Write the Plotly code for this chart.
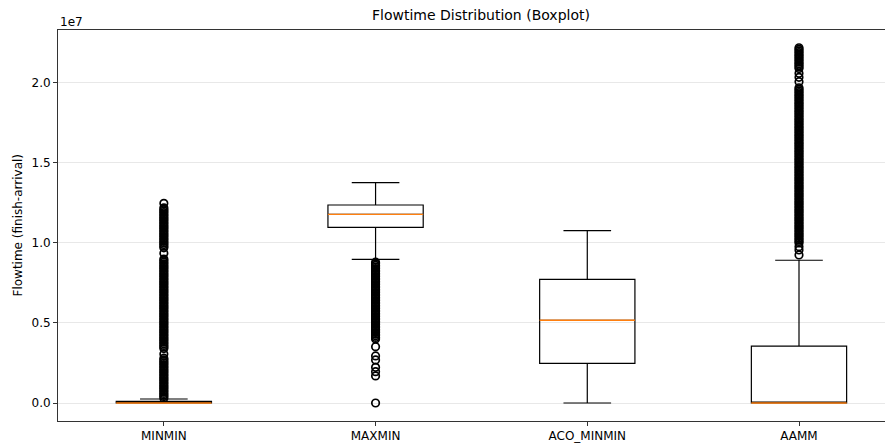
import plotly.graph_objects as go

# ---- data (values in units of 1e7) ----
CATEGORIES = ["MINMIN", "MAXMIN", "ACO_MINMIN", "AAMM"]
POSITIONS = [1, 2, 3, 4]
Q1 = [0.0, 1.098, 0.248, 0.0]
MEDIAN = [0.0, 1.179, 0.517, 0.0]
Q3 = [0.010, 1.2375, 0.773, 0.356]
LOWER_WHISKER = [0.0, 0.898, 0.0, 0.0]
UPPER_WHISKER = [0.025, 1.377, 1.077, 0.892]

MINMIN_OUTLIERS = [
    0.03, 0.04, 0.05, 0.06, 0.07, 0.08, 0.09, 0.10, 0.11, 0.12, 0.13, 0.14, 0.15,
    0.16, 0.17, 0.18, 0.19, 0.20, 0.21, 0.22, 0.23, 0.24, 0.25, 0.26, 0.27, 0.28,
    0.306,
    0.34, 0.35, 0.36, 0.37, 0.38, 0.39, 0.40, 0.41, 0.42, 0.43, 0.44, 0.45, 0.46,
    0.47, 0.48, 0.49, 0.50, 0.51, 0.52, 0.53, 0.54, 0.55, 0.56, 0.57, 0.58, 0.59,
    0.60, 0.61, 0.62, 0.63, 0.64, 0.65, 0.66, 0.67, 0.68, 0.69, 0.70, 0.71, 0.72,
    0.73, 0.74, 0.75, 0.76, 0.77, 0.78, 0.79, 0.80, 0.81, 0.82, 0.83, 0.84, 0.85,
    0.86, 0.87, 0.88, 0.89, 0.90,
    0.936,
    0.97, 0.98, 0.99, 1.00, 1.01, 1.02, 1.03, 1.04, 1.05, 1.06, 1.07, 1.08, 1.09,
    1.10, 1.11, 1.12, 1.13, 1.14, 1.15, 1.16, 1.17, 1.18, 1.19, 1.20, 1.21, 1.22,
    1.248,
]
MAXMIN_OUTLIERS = [
    0.0, 0.169, 0.196, 0.223, 0.269, 0.294, 0.352,
    0.40, 0.41, 0.42, 0.43, 0.44, 0.45, 0.46, 0.47, 0.48, 0.49, 0.50, 0.51, 0.52,
    0.53, 0.54, 0.55, 0.56, 0.57, 0.58, 0.59, 0.60, 0.61, 0.62, 0.63, 0.64, 0.65,
    0.66, 0.67, 0.68, 0.69, 0.70, 0.71, 0.72, 0.73, 0.74, 0.75, 0.76, 0.77, 0.78,
    0.79, 0.80, 0.81, 0.82, 0.83, 0.84, 0.85, 0.86, 0.87, 0.88,
]
ACO_MINMIN_OUTLIERS = []
AAMM_OUTLIERS = [
    0.925, 0.956, 0.977,
    1.00, 1.01, 1.02, 1.03, 1.04, 1.05, 1.06, 1.07, 1.08, 1.09, 1.10, 1.11, 1.12,
    1.13, 1.14, 1.15, 1.16, 1.17, 1.18, 1.19, 1.20, 1.21, 1.22, 1.23, 1.24, 1.25,
    1.26, 1.27, 1.28, 1.29, 1.30, 1.31, 1.32, 1.33, 1.34, 1.35, 1.36, 1.37, 1.38,
    1.39, 1.40, 1.41, 1.42, 1.43, 1.44, 1.45, 1.46, 1.47, 1.48, 1.49, 1.50, 1.51,
    1.52, 1.53, 1.54, 1.55, 1.56, 1.57, 1.58, 1.59, 1.60, 1.61, 1.62, 1.63, 1.64,
    1.65, 1.66, 1.67, 1.68, 1.69, 1.70, 1.71, 1.72, 1.73, 1.74, 1.75, 1.76, 1.77,
    1.78, 1.79, 1.80, 1.81, 1.82, 1.83, 1.84, 1.85, 1.86, 1.87, 1.88, 1.89, 1.90,
    1.91, 1.92, 1.93, 1.94, 1.95, 1.96, 1.97,
    2.008, 2.035, 2.06,
    2.09, 2.10, 2.11, 2.12, 2.13, 2.14, 2.15, 2.16, 2.17, 2.18, 2.19, 2.20, 2.21, 2.22,
]
OUTLIERS = [MINMIN_OUTLIERS, MAXMIN_OUTLIERS, ACO_MINMIN_OUTLIERS, AAMM_OUTLIERS]

Y_TICKS = [0.0, 0.5, 1.0, 1.5, 2.0]
Y_TICK_LABELS = ["0.0", "0.5", "1.0", "1.5", "2.0"]

# ---- style ----
FONT = "DejaVu Sans"
BOX_WIDTH = 0.45
MEDIAN_COLOR = "#ff7f0e"
PLOT_H = 391  # plot-area height in px

fig = go.Figure()

for i, pos in enumerate(POSITIONS):
    fig.add_trace(go.Box(
        x=[pos], q1=[Q1[i]], median=[MEDIAN[i]], q3=[Q3[i]],
        lowerfence=[LOWER_WHISKER[i]], upperfence=[UPPER_WHISKER[i]],
        width=BOX_WIDTH, whiskerwidth=0.5, boxpoints=False,
        fillcolor="rgba(255,255,255,0)",
        line=dict(color="#000000", width=1.2),
        showlegend=False, hoverinfo="skip",
    ))

for i, pos in enumerate(POSITIONS):
    vals = OUTLIERS[i]
    if vals:
        fig.add_trace(go.Scatter(
            x=[pos] * len(vals), y=vals, mode="markers",
            marker=dict(symbol="circle-open", size=7.5,
                        color="#000000", line=dict(width=1.7, color="#000000")),
            showlegend=False, hoverinfo="skip",
        ))

for i, pos in enumerate(POSITIONS):
    fig.add_trace(go.Scatter(
        x=[pos - BOX_WIDTH / 2, pos + BOX_WIDTH / 2], y=[MEDIAN[i], MEDIAN[i]],
        mode="lines", line=dict(color=MEDIAN_COLOR, width=1.4),
        showlegend=False, hoverinfo="skip",
    ))

fig.update_layout(
    width=885, height=436,
    margin=dict(l=50, r=0, t=22, b=23),
    paper_bgcolor="white", plot_bgcolor="white",
    font=dict(family=FONT, size=12, color="#000000"),
    boxmode="overlay",
    xaxis=dict(
        range=[0.5, 4.444], tickmode="array", tickvals=POSITIONS, ticktext=CATEGORIES,
        showgrid=False, zeroline=False, showline=True, linecolor="#333333", linewidth=1,
        mirror=True, ticks="outside", ticklen=4, tickcolor="#333333", tickwidth=1,
        tickfont=dict(family=FONT, size=12, color="#000000"),
    ),
    yaxis=dict(
        range=[-0.1125, 2.331], tickmode="array", tickvals=Y_TICKS, ticktext=Y_TICK_LABELS,
        showgrid=True, gridcolor="#e8e8e8", gridwidth=1, zeroline=False,
        showline=True, linecolor="#333333", linewidth=1,
        ticks="outside", ticklen=4, tickcolor="#333333", tickwidth=1,
        tickfont=dict(family=FONT, size=12, color="#000000"),
    ),
    annotations=[
        dict(text="Flowtime Distribution (Boxplot)", xref="paper", yref="paper",
             x=0.5066, y=1 + 15 / PLOT_H, xanchor="center", yanchor="middle",
             showarrow=False, font=dict(family=FONT, size=14, color="#000000")),
        dict(text="1e7", xref="paper", yref="paper",
             x=0.0, y=1 + 8 / PLOT_H, xanchor="left", yanchor="middle",
             showarrow=False, font=dict(family=FONT, size=12, color="#000000")),
        dict(text="Flowtime (finish-arrival)", xref="paper", yref="paper",
             x=-41 / 835, y=0.5, xanchor="center", yanchor="middle", textangle=-90,
             showarrow=False, font=dict(family=FONT, size=12, color="#000000")),
    ],
)

fig.write_html("out.html")
